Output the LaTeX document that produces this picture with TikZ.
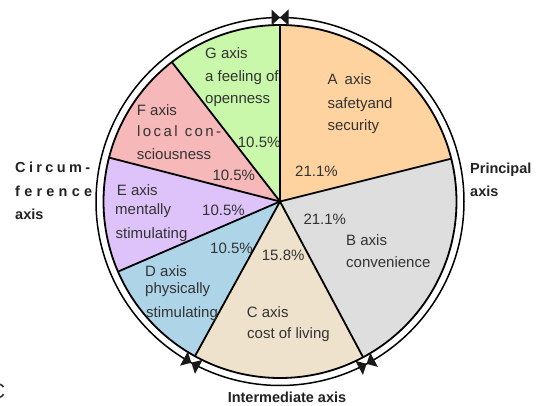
\documentclass[tikz,border=0pt]{standalone}
\usepackage{fontspec}
\setmainfont{Liberation Sans}
\definecolor{cA}{RGB}{255,211,160}
\definecolor{cB}{RGB}{222,222,222}
\definecolor{cC}{RGB}{239,226,205}
\definecolor{cD}{RGB}{174,212,232}
\definecolor{cE}{RGB}{222,195,250}
\definecolor{cF}{RGB}{246,184,184}
\definecolor{cG}{RGB}{201,248,170}
\definecolor{txt}{RGB}{51,51,51}
\definecolor{txtb}{RGB}{34,34,34}
\tikzset{
  border/.style={draw=black, line width=1.8pt, line join=round},
  ring/.style={draw=black, line width=1.5pt},
  lbl/.style={anchor=base west, inner sep=0pt, text=txt, font=\fontsize{15}{18}\selectfont},
  blbl/.style={anchor=base west, inner sep=0pt, text=txtb, font=\fontsize{14.5}{17}\selectfont\bfseries},
}
\begin{document}
\begin{tikzpicture}[x=1pt,y=1pt]
\useasboundingbox (0,0) rectangle (547,405);
\begin{scope}[shift={(280,203.5)}]
  \fill[cA] (0,0) -- (14.04:176.5) arc[start angle=14.04, end angle=90, radius=176.5] -- cycle;
  \fill[cB] (0,0) -- (-61.92:176.5) arc[start angle=-61.92, end angle=14.04, radius=176.5] -- cycle;
  \fill[cC] (0,0) -- (-118.8:176.5) arc[start angle=-118.8, end angle=-61.92, radius=176.5] -- cycle;
  \fill[cD] (0,0) -- (-156.6:176.5) arc[start angle=-156.6, end angle=-118.8, radius=176.5] -- cycle;
  \fill[cE] (0,0) -- (-194.4:176.5) arc[start angle=-194.4, end angle=-156.6, radius=176.5] -- cycle;
  \fill[cF] (0,0) -- (-232.2:176.5) arc[start angle=-232.2, end angle=-194.4, radius=176.5] -- cycle;
  \fill[cG] (0,0) -- (-270:176.5) arc[start angle=-270, end angle=-232.2, radius=176.5] -- cycle;
  \foreach \a in {90,14.04,-61.92,-118.8,-156.6,-194.4,-232.2}
    \draw[border, line cap=round] (0,0) -- (\a:176.5);
  \draw[border] (0,0) circle[radius=176.5];
  \draw[ring] (0,0) circle[radius=184];
  \foreach \a in {90,-61.92,-118.8} {
    \begin{scope}[shift={(\a:184)}, rotate=\a-90]
      \fill[black!90] (0,0) -- (-8.5,8) -- (-8.5,-8) -- cycle;
      \fill[black!90] (0,0) -- (8.5,8) -- (8.5,-8) -- cycle;
    \end{scope}
  }
\end{scope}

% G
\node[lbl] (g1) at (205,346) {G axis};
\node[lbl] (g2) at (205,323.3) {a feeling of};
\node[lbl] (g3) at (205,301) {openness};
\node[lbl] (g4) at (237.7,257.3) {10.5\%};
% F
\node[lbl] (f1) at (136.7,289.3) {F axis};
\node[lbl] (f2) at (137,268.3) {\makebox[84pt][s]{l\hfill o\hfill c\hfill a\hfill l\hfill\hfill\hfill c\hfill o\hfill n\hfill -}};
\node[lbl] (f3) at (136.7,245) {sciousness};
\node[lbl] (f4) at (212.3,224) {10.5\%};
% E
\node[lbl] (e1) at (116.7,209) {E axis};
\node[lbl] (e2) at (115,190) {mentally};
\node[lbl] (e3) at (115.5,166.7) {stimulating};
\node[lbl] (e4) at (202,189) {10.5\%};
% D
\node[lbl] (d4) at (210,151.7) {10.5\%};
\node[lbl] (d1) at (145,128.3) {D axis};
\node[lbl] (d2) at (145,111.7) {physically};
\node[lbl] (d3) at (146,87.7) {stimulating};
% C
\node[lbl] (c4) at (261.7,144) {15.8\%};
\node[lbl] (c1) at (246.7,87.3) {C axis};
\node[lbl] (c2) at (247,66.7) {cost of living};
% B
\node[lbl] (b4) at (303.3,180.7) {21.1\%};
\node[lbl] (b1) at (346,159) {B axis};
\node[lbl] (b2) at (346,137.3) {convenience};
% A
\node[lbl] (a1) at (327.3,320) {A\hspace{3pt} axis};
\node[lbl] (a2) at (327.3,296.7) {safetyand};
\node[lbl] (a3) at (327.3,274) {security};
\node[lbl] (a4) at (295,228.3) {21.1\%};
% axis labels
\node[blbl] (p1) at (470,231.7) {Principal};
\node[blbl] (p2) at (470,208.3) {axis};
\node[blbl] (ci1) at (15,232.7) {\makebox[75pt][s]{C\hfill i\hfill r\hfill c\hfill u\hfill m\hfill -}};
\node[blbl] (ci2) at (15,208.3) {\makebox[77pt][s]{f\hfill e\hfill r\hfill e\hfill n\hfill c\hfill e}};
\node[blbl] (ci3) at (15,185) {axis};
\node[blbl, anchor=base] (im) at (287,3) {Intermediate axis};
\node[anchor=base west, inner sep=0pt, text=txt, font=\fontsize{21}{24}\selectfont] (cc) at (-10,7) {C};
\end{tikzpicture}
\end{document}
